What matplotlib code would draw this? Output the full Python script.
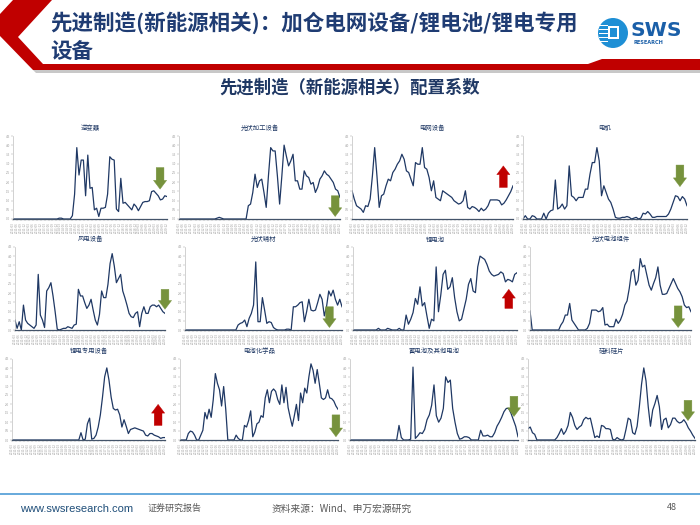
import numpy as np
import matplotlib
matplotlib.use('Agg')
import matplotlib.pyplot as plt
from matplotlib.patches import Polygon, Ellipse, Rectangle

plt.rcParams['font.family'] = ['Noto Sans CJK SC', 'DejaVu Sans']

W, H = 700, 525

# chart data (share of axis height)
titles = ['逆变器', '光伏加工设备', '电网设备', '电机',
          '风电设备', '光伏辅材', '锂电池', '光伏电池组件',
          '锂电专用设备', '电池化学品', '蓄电池及其他电池', '硅料硅片']

inverter = [0, 0, 0, 0, 0, 0, 0, 0, 0, 0, 0, 0, 0, 0, 0, 0, 0, 0, 0, 0, 0,
            1, 1, 0, 0, 0, 0, 4, 30, 86, 53, 71, 71, 28, 77, 37, 38, 11, 13, 3,
            13, 13, 14, 30, 75, 72, 71, 12, 9, 49, 19, 20, 17, 14, 11, 18, 15,
            10, 15, 20, 21, 21, 22, 33, 34, 31, 28, 23, 24, 28, 27]
pv_equipment = [0, 0, 0, 0, 0, 0, 0, 0, 0, 0, 0, 0, 0, 0, 0, 0, 0, 1, 2, 1,
                0, 0, 0, 0, 0, 0, 0, 0, 0, 0, 0, 16, 18, 32, 54, 38, 46, 48, 32,
                14, 52, 86, 82, 82, 52, 18, 52, 89, 76, 64, 70, 78, 46, 46, 36,
                36, 58, 52, 50, 42, 44, 32, 38, 48, 52, 58, 54, 52, 48, 44, 36,
                34, 26]
grid_equipment = [34, 24, 16, 14, 12, 8, 16, 15, 24, 52, 86, 52, 14, 28, 30,
                  40, 48, 46, 56, 60, 66, 70, 78, 72, 58, 56, 48, 40, 68, 66,
                  66, 86, 62, 60, 50, 34, 46, 26, 24, 22, 34, 32, 30, 28, 26,
                  22, 20, 18, 19, 22, 34, 14, 12, 15, 14, 12, 9, 13, 10, 12, 16,
                  23, 23, 23, 23, 22, 17, 19, 23, 28, 33, 40]
motor = [0, 4, 0, 0, 4, 3, 0, 0, 0, 7, 0, 7, 10, 11, 47, 12, 14, 18, 12, 16,
         64, 28, 26, 22, 26, 26, 26, 36, 36, 54, 68, 68, 86, 70, 28, 40, 32,
         24, 20, 12, 2, 1, 1, 2, 2, 3, 2, 0, 1, 2, 0, 1, 7, 6, 9, 6, 2, 2, 3,
         3, 3, 3, 3, 6, 12, 20, 28, 27, 22, 27, 24, 16]
wind_equipment = [12, 2, 10, 0, 30, 12, 8, 6, 4, 2, 6, 67, 18, 12, 3, 47, 51,
                  57, 41, 22, 1, 0, 1, 2, 2, 4, 3, 2, 6, 7, 49, 41, 41, 33, 26,
                  30, 37, 24, 12, 6, 19, 47, 39, 39, 55, 80, 92, 77, 57, 62, 67,
                  47, 39, 30, 20, 16, 15, 20, 22, 4, 20, 28, 20, 20, 28, 30, 30,
                  28, 30, 26, 22, 20]
pv_materials = [0, 0, 0, 0, 0, 0, 0, 0, 0, 0, 0, 0, 0, 0, 0, 0, 0, 0, 0, 0, 0,
                0, 0, 0, 6, 8, 9, 12, 4, 14, 20, 30, 82, 10, 10, 39, 24, 8, 10,
                9, 3, 1, 0, 0, 0, 0, 1, 1, 0, 28, 28, 30, 33, 34, 10, 22, 37, 24,
                23, 24, 33, 43, 37, 17, 28, 47, 41, 48, 37, 30, 37, 28]
li_battery = [0, 0, 0, 0, 0, 0, 0, 0, 0, 0, 0, 2, 0, 0, 0, 2, 1, 0, 0, 0, 2,
              0, 0, 18, 7, 13, 21, 38, 31, 52, 29, 33, 17, 2, 13, 11, 76, 22,
              42, 67, 72, 49, 52, 63, 39, 22, 11, 13, 25, 37, 55, 62, 47, 45,
              76, 89, 87, 85, 79, 71, 67, 65, 66, 67, 70, 68, 58, 61, 60, 58,
              67, 69]
pv_modules = [23, 0, 0, 0, 0, 0, 0, 0, 0, 0, 0, 0, 0, 0, 6, 10, 18, 18, 32, 12,
              8, 4, 0, 0, 0, 0, 2, 8, 24, 24, 24, 22, 23, 27, 6, 7, 4, 4, 4, 13,
              8, 12, 19, 30, 35, 50, 70, 73, 54, 60, 86, 76, 78, 66, 54, 48, 56,
              63, 76, 54, 43, 43, 44, 50, 56, 62, 56, 50, 46, 40, 30, 27, 28, 22]
li_equipment = [0, 0, 0, 0, 0, 0, 0, 0, 0, 0, 0, 0, 0, 0, 0, 0, 0, 0, 0, 0, 0,
                0, 0, 0, 0, 0, 0, 0, 0, 0, 0, 0, 9, 0, 1, 20, 27, 1, 2, 6, 16,
                31, 53, 78, 89, 74, 53, 39, 37, 38, 31, 16, 25, 17, 8, 13, 14,
                15, 14, 13, 12, 11, 6, 5, 8, 8, 6, 5, 4, 2, 3, 3]
battery_chem = [0, 0, 0, 0, 8, 11, 10, 6, 0, 0, 6, 12, 34, 26, 38, 28, 50, 82,
                70, 62, 42, 66, 38, 0, 0, 0, 0, 6, 2, 0, 0, 18, 16, 24, 36, 4,
                10, 20, 22, 30, 28, 52, 62, 46, 60, 63, 60, 50, 44, 68, 46, 65,
                40, 28, 17, 30, 44, 24, 58, 46, 64, 58, 78, 94, 86, 70, 87, 70,
                52, 50, 52, 62, 52, 51, 48, 42, 38]
other_battery = [0, 0, 0, 0, 0, 0, 0, 0, 0, 0, 0, 0, 0, 0, 0, 0, 0, 0, 0, 0, 0,
                 18, 3, 0, 0, 0, 1, 90, 2, 5, 9, 8, 13, 25, 31, 43, 68, 30, 22,
                 27, 39, 78, 71, 74, 39, 22, 8, 1, 2, 4, 4, 3, 0, 0, 0, 0, 12, 5,
                 5, 6, 4, 4, 9, 17, 22, 28, 35, 39, 39, 33, 25, 17, 4]
si_wafer = [14, 16, 9, 7, 0, 0, 0, 0, 0, 0, 0, 0, 0, 3, 8, 14, 7, 11, 18, 34,
            28, 18, 13, 16, 18, 25, 28, 26, 27, 15, 3, 5, 3, 18, 17, 14, 14, 13,
            1, 0, 3, 1, 0, 1, 13, 27, 25, 9, 7, 17, 41, 69, 89, 73, 41, 17, 37,
            45, 55, 41, 13, 25, 27, 15, 19, 27, 27, 23, 21, 22, 25, 21, 15, 11,
            6, 2]

series = [inverter, pv_equipment, grid_equipment, motor,
          wind_equipment, pv_materials, li_battery, pv_modules,
          li_equipment, battery_chem, other_battery, si_wafer]

# trend arrows: direction and (x, tail y, head y) in axes fraction
arrow_dirs = ['down', 'down', 'up', 'down', 'down', 'down', 'up', 'down',
              'up', 'down', 'down', 'down']
arrow_pos = [(0.955, 0.62, 0.36), (0.97, 0.28, 0.03), (0.94, 0.38, 0.64),
             (0.957, 0.65, 0.39), (1.0, 0.49, 0.25), (0.92, 0.28, 0.03),
             (0.95, 0.26, 0.49), (0.92, 0.29, 0.03), (0.955, 0.18, 0.44),
             (0.987, 0.31, 0.04), (0.976, 0.54, 0.29), (0.958, 0.49, 0.24)]

date_labels = [f'{y}-{m:02d}' for y in range(2011, 2021) for m in (3, 6, 9, 12)]
ytick_labels = ['0.0', '0.5', '1.0', '1.5', '2.0', '2.5', '3.0', '3.5', '4.0', '4.5']

# axes boxes in pixels: left, top, right, bottom
boxes = [(13, 136, 167, 219), (179, 136, 340, 219), (352, 136, 513, 219), (523, 136, 687, 219),
         (15, 247, 165, 330), (185, 247, 342, 330), (353, 247, 517, 330), (530, 247, 691, 330),
         (12, 359, 165, 440), (180, 359, 338, 440), (350, 359, 518, 440), (528, 359, 695, 440)]

NAVY = '#1f3864'
RED = '#c00000'
GREEN = '#76923c'


def px(x, y):
    return (x / W, 1 - y / H)


fig = plt.figure(figsize=(7, 5.25), dpi=100)
fig.patch.set_facecolor('white')

# header banner
red_shape = [(13, 0), (52, 0), (18, 37), (43, 64), (588, 64), (602, 59), (700, 59),
             (700, 70), (33, 70), (0, 36), (0, 14)]
fig.add_artist(Polygon([px(*p) for p in red_shape], closed=True, fc=RED, ec='none',
                       transform=fig.transFigure))
shadow = [(33, 70), (700, 70), (700, 73), (36, 73)]
fig.add_artist(Polygon([px(*p) for p in shadow], closed=True, fc='#c8c8c8', ec='none',
                       transform=fig.transFigure))

fig.text(50 / W, 1 - 23 / H, '先进制造(新能源相关)：加仓电网设备/锂电池/锂电专用',
         fontsize=15.5, fontweight='bold', color='#1f3c73', va='center', ha='left')
fig.text(50 / W, 1 - 51 / H, '设备', fontsize=15.5, fontweight='bold',
         color='#1f3c73', va='center', ha='left')

# logo
fig.add_artist(Ellipse(px(613, 33), 30 / W, 30 / H, fc='#1e8fd5', ec='none',
                       transform=fig.transFigure))
for yy in (25, 29, 33, 37, 41):
    fig.add_artist(Rectangle(px(599, yy + 1), 9 / W, 1.3 / H, fc='white', ec='none',
                             transform=fig.transFigure))
fig.add_artist(Rectangle(px(608, 39), 11 / W, 13 / H, fc='white', ec='none',
                         transform=fig.transFigure))
fig.add_artist(Rectangle(px(610, 37), 7 / W, 9 / H, fc='#1e8fd5', ec='none',
                         transform=fig.transFigure))
fig.text(631 / W, 1 - 30 / H, 'SWS', fontsize=14.5, fontweight='bold', color='#1a5fa8',
         family='DejaVu Sans', va='center', ha='left')
fig.text(634 / W, 1 - 43 / H, 'RESEARCH', fontsize=3.6, fontweight='bold',
         color='#1a5fa8', family='DejaVu Sans', va='center', ha='left')

fig.text(0.5, 1 - 88 / H, '先进制造（新能源相关）配置系数', fontsize=12.5,
         fontweight='bold', color=NAVY, ha='center', va='center')

for i, vals in enumerate(series):
    l, t, r, b = boxes[i]
    ax = fig.add_axes([l / W, 1 - b / H, (r - l) / W, (b - t) / H])
    x = np.arange(len(vals))
    ax.plot(x, vals, color=NAVY, lw=0.9)
    ax.set_xlim(0, len(vals) - 1)
    ax.set_ylim(0, 100)
    ax.set_yticks(np.linspace(0, 100, len(ytick_labels)))
    ax.set_yticklabels(ytick_labels)
    ax.set_xticks(np.linspace(0, len(vals) - 1, len(date_labels)))
    ax.set_xticklabels(date_labels, rotation=90)
    ax.tick_params(axis='both', labelsize=2.2, colors='#9a9a9a', length=1.2,
                   width=0.3, pad=1)
    for side in ('top', 'right'):
        ax.spines[side].set_visible(False)
    ax.spines['left'].set_color('#bfbfbf')
    ax.spines['left'].set_linewidth(0.5)
    ax.spines['bottom'].set_color('#44546a')
    ax.spines['bottom'].set_linewidth(0.9)
    ax.set_title(titles[i], fontsize=4.6, color=NAVY, pad=4)

    ax_x, y_tail, y_head = arrow_pos[i]
    col = RED if arrow_dirs[i] == 'up' else GREEN
    ax.annotate('', xy=(ax_x, y_head), xytext=(ax_x, y_tail), xycoords='axes fraction',
                annotation_clip=False,
                arrowprops=dict(arrowstyle='simple,head_length=0.7,head_width=1.05,tail_width=0.62',
                                mutation_scale=9, fc=col, ec=col, lw=0.3,
                                shrinkA=0, shrinkB=0))

# footer
fig.add_artist(plt.Line2D([0, 1], [1 - 494 / H, 1 - 494 / H], color='#5ba3d9', lw=1.3,
                          transform=fig.transFigure))
fig.text(20 / W, 1 - 509 / H, 'www.swsresearch.com', fontsize=8, color='#1f4e79',
         family='Liberation Sans', va='center', ha='left')
fig.text(148 / W, 1 - 508 / H, '证券研究报告', fontsize=6.5, color='#595959',
         va='center', ha='left')
fig.text(272 / W, 1 - 509 / H, '资料来源：Wind、申万宏源研究', fontsize=7,
         color='#595959', va='center', ha='left')
fig.text(677 / W, 1 - 508 / H, '48', fontsize=6.5, color='#595959',
         va='center', ha='right')

fig.savefig('out.png', dpi=100, facecolor='white')
